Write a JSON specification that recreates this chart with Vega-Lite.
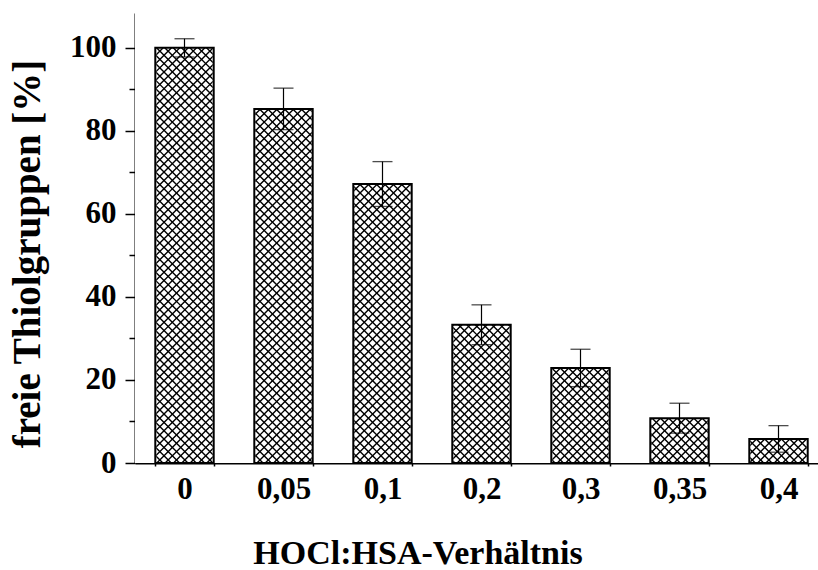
{
  "$schema": "https://vega.github.io/schema/vega-lite/v6.json",
  "autosize": {"type": "none"},
  "padding": {"left": 135, "top": 13, "right": -10, "bottom": 107},
  "width": 693,
  "height": 450,
  "background": "white",
  "data": {
    "values": [
      {"ratio": "0", "v": 100.0, "err": 2.2},
      {"ratio": "0,05", "v": 85.3, "err": 5.0},
      {"ratio": "0,1", "v": 67.2, "err": 5.4},
      {"ratio": "0,2", "v": 33.3, "err": 4.8},
      {"ratio": "0,3", "v": 22.9, "err": 4.5},
      {"ratio": "0,35", "v": 10.8, "err": 3.6},
      {"ratio": "0,4", "v": 5.8, "err": 3.2}
    ]
  },
  "layer": [
    {
      "description": "cross-hatch, first diagonal: one wide dashed stroke clipped to the plot",
      "transform": [{"filter": "datum.ratio === '0,2'"}],
      "mark": {"type": "point", "shape": "stroke", "angle": 45, "filled": false, "opacity": 1, "stroke": "black", "strokeWidth": 1300, "strokeDash": [1.4, 4.5], "size": 1690000, "clip": true},
      "encoding": {
        "x": {"field": "ratio", "type": "nominal", "title": "HOCl:HSA-Verhältnis"},
        "y": {"datum": 54, "type": "quantitative", "title": "freie Thiolgruppen [%]"}
      }
    },
    {
      "description": "cross-hatch, second diagonal",
      "transform": [{"filter": "datum.ratio === '0,2'"}],
      "mark": {"type": "point", "shape": "stroke", "angle": -45, "filled": false, "opacity": 1, "stroke": "black", "strokeWidth": 1300, "strokeDash": [1.4, 4.5], "size": 1690000, "clip": true},
      "encoding": {
        "x": {"field": "ratio", "type": "nominal", "title": "HOCl:HSA-Verhältnis"},
        "y": {"datum": 54, "type": "quantitative", "title": "freie Thiolgruppen [%]"}
      }
    },
    {
      "description": "white above each bar, so the hatch stays inside the bars",
      "mark": {"type": "bar", "fill": "white", "stroke": null, "clip": true},
      "encoding": {
        "x": {"field": "ratio", "type": "nominal", "title": "HOCl:HSA-Verhältnis"},
        "y": {"field": "v", "type": "quantitative", "title": "freie Thiolgruppen [%]"},
        "y2": {"datum": 108.4}
      }
    },
    {
      "description": "white in the gap left of each bar",
      "mark": {"type": "rule", "stroke": "white", "strokeWidth": 42.5, "clip": true},
      "encoding": {
        "x": {"field": "ratio", "type": "nominal", "bandPosition": -0.3476, "title": "HOCl:HSA-Verhältnis"},
        "y": {"datum": 0, "title": "freie Thiolgruppen [%]"},
        "y2": {"datum": 108.4}
      }
    },
    {
      "description": "white in the gap right of the last bar",
      "transform": [{"filter": "datum.ratio === '0,4'"}],
      "mark": {"type": "rule", "stroke": "white", "strokeWidth": 42.5, "clip": true},
      "encoding": {
        "x": {"field": "ratio", "type": "nominal", "bandPosition": 1.3476, "title": "HOCl:HSA-Verhältnis"},
        "y": {"datum": 0, "title": "freie Thiolgruppen [%]"},
        "y2": {"datum": 108.4}
      }
    },
    {
      "description": "bar outlines",
      "mark": {"type": "bar", "fill": "white", "fillOpacity": 0, "stroke": "black", "strokeWidth": 2},
      "encoding": {
        "x": {
          "field": "ratio", "type": "nominal",
          "title": "HOCl:HSA-Verhältnis",
          "scale": {"domain": ["0", "0,05", "0,1", "0,2", "0,3", "0,35", "0,4"], "paddingInner": 0.41, "paddingOuter": 0.205},
          "axis": {"titleX": 282.5, "titleY": 100.3, "titleBaseline": "alphabetic"}
        },
        "y": {
          "field": "v", "type": "quantitative",
          "title": "freie Thiolgruppen [%]",
          "scale": {"domain": [0, 108.4], "nice": false},
          "axis": {"titleX": -96, "titleY": 240.5, "titleBaseline": "alphabetic"}
        }
      }
    },
    {
      "description": "error bars",
      "mark": {"type": "errorbar", "color": "black", "ticks": {"size": 20, "thickness": 1.3, "color": "black"}, "rule": {"strokeWidth": 1.2, "color": "black"}},
      "encoding": {
        "x": {"field": "ratio", "type": "nominal", "title": "HOCl:HSA-Verhältnis"},
        "y": {"field": "v", "type": "quantitative", "title": "freie Thiolgruppen [%]"},
        "yError": {"field": "err"}
      }
    }
  ],
  "config": {
    "view": {"stroke": null},
    "axis": {
      "zindex": 1,
      "grid": false,
      "domainColor": "black",
      "domainWidth": 2,
      "tickColor": "black",
      "tickWidth": 1.5,
      "labelColor": "black",
      "titleColor": "black",
      "labelFont": "Liberation Serif",
      "labelFontWeight": "bold",
      "labelFontSize": 31,
      "titleFont": "Liberation Serif",
      "titleFontWeight": "bold"
    },
    "axisX": {
      "labelAngle": 0,
      "tickBand": "extent",
      "tickSize": 3,
      "labelPadding": 8,
      "titleFontSize": 34
    },
    "axisY": {
      "values": [0, 10, 20, 30, 40, 50, 60, 70, 80, 90, 100],
      "labelExpr": "datum.value % 20 === 0 ? datum.label : ''",
      "tickSize": {"condition": {"test": "datum.value % 20 === 0", "value": 10}, "value": 6},
      "labelPadding": 9,
      "titleFontSize": 39
    }
  }
}
